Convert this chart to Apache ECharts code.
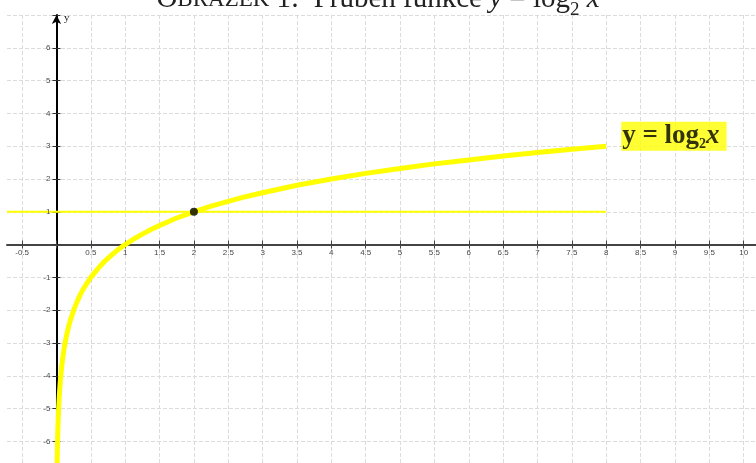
<!DOCTYPE html>
<html>
<head>
<meta charset="utf-8">
<script src="https://cdn.jsdelivr.net/npm/echarts@6/dist/echarts.min.js"></script>
<style>
	html, body { margin: 0; padding: 0; background: #fff; }
	#chart { width: 756px; height: 463px; }
</style>
</head>
<body>
<div id="chart"></div>
<script>
// curve y = log2 x
const curveX = [0.008, 0.01, 0.0125, 0.015, 0.02, 0.025, 0.03, 0.04, 0.05, 0.06, 0.07, 0.08, 0.1, 0.125, 0.15, 0.175, 0.2, 0.25, 0.3, 0.35, 0.4, 0.5, 0.6, 0.7, 0.8, 0.9, 1, 1.125, 1.25, 1.375, 1.5, 1.75, 2, 2.25, 2.5, 2.75, 3, 3.5, 4, 4.5, 5, 5.5, 6, 6.5, 7, 7.5, 8]
const curveY = [-6.97, -6.64, -6.32, -6.06, -5.64, -5.32, -5.06, -4.64, -4.32, -4.06, -3.84, -3.64, -3.32, -3, -2.74, -2.51, -2.32, -2, -1.74, -1.51, -1.32, -1, -0.74, -0.51, -0.32, -0.15, 0, 0.17, 0.32, 0.46, 0.58, 0.81, 1, 1.17, 1.32, 1.46, 1.58, 1.81, 2, 2.17, 2.32, 2.46, 2.58, 2.7, 2.81, 2.91, 3]

// horizontal line y = 1
const levelX = [-0.72, 8]
const levelY = [1, 1]

// highlighted point
const pointX = [2]
const pointY = [1]

// label at the end of the curve
const labelX = [8]
const labelY = [3]

// ticks and tick labels
const xTicks = [-0.5, 0, 0.5, 1, 1.5, 2, 2.5, 3, 3.5, 4, 4.5, 5, 5.5, 6, 6.5, 7, 7.5, 8, 8.5, 9, 9.5, 10]
const xLabels = [-0.5, 0.5, 1, 1.5, 2, 2.5, 3, 3.5, 4, 4.5, 5, 5.5, 6, 6.5, 7, 7.5, 8, 8.5, 9, 9.5, 10]
const yTicks = [-6, -5, -4, -3, -2, -1, 0, 1, 2, 3, 4, 5, 6, 7]
const yLabels = [-6, -5, -4, -3, -2, -1, 1, 2, 3, 4, 5, 6]

// visible ranges
const xRange = [-0.72, 10.18]
const yRange = [-6.66, 7]

const node = document.getElementById('chart')
const myChart = echarts.init(node)

const zip = (a, b) => a.map((v, i) => [v, b[i]])

const tickFont = {
	fontFamily: 'Liberation Sans, sans-serif',
	fontSize: 8,
	color: '#111'
}

const serif = 'Liberation Serif, serif'
const gridLine = { color: '#dcdcdc', type: [4, 2], width: 1 }

const option = {
	animation: false,
	title: {
		left: 'center',
		top: -20,
		text: '{a|O}{b|BRÁZEK}{a| 1:  Průběh funkce }{i|y}{a| = log}{s|2}{i| x}',
		textStyle: {
			rich: {
				a: { fontFamily: serif, fontSize: 29, fontWeight: 'normal', color: '#222' },
				b: { fontFamily: serif, fontSize: 23, fontWeight: 'normal', color: '#222' },
				i: { fontFamily: serif, fontSize: 29, fontWeight: 'normal', fontStyle: 'italic', color: '#222' },
				s: { fontFamily: serif, fontSize: 19, fontWeight: 'normal', color: '#222', verticalAlign: 'bottom', padding: [0, 0, -6, 0] }
			}
		}
	},
	graphic: [
		{
			type: 'text',
			left: 64,
			top: 13,
			style: {
				text: 'y',
				font: '11px Liberation Serif, serif',
				fill: '#222'
			}
		}
	],
	grid: {
		left: 7,
		right: 0,
		top: 15,
		bottom: 0,
		outerBoundsMode: 'none'
	},
	xAxis: [
		{
			type: 'value',
			min: xRange[0],
			max: xRange[1],
			position: 'bottom',
			axisLine: {
				onZero: true,
				onZeroAxisIndex: 0,
				lineStyle: { color: '#444', width: 2 }
			},
			axisTick: { show: true, length: 4, customValues: xTicks, lineStyle: { color: '#444' } },
			axisLabel: { show: false },
			splitLine: { show: true, lineStyle: gridLine }
		},
		{
			type: 'value',
			min: xRange[0],
			max: xRange[1],
			position: 'top',
			axisLine: { show: false, onZero: true, onZeroAxisIndex: 0 },
			axisTick: { show: true, length: 4, customValues: xTicks, lineStyle: { color: '#444' } },
			axisLabel: { show: false },
			splitLine: { show: false }
		}
	],
	yAxis: [
		{
			type: 'value',
			min: yRange[0],
			max: yRange[1],
			position: 'left',
			axisLine: {
				onZero: true,
				onZeroAxisIndex: 0,
				symbol: ['none', 'arrow'],
				symbolSize: [7, 9],
				lineStyle: { color: '#000', width: 2 }
			},
			axisTick: { show: true, length: 4, customValues: yTicks, lineStyle: { color: '#333' } },
			axisLabel: { show: false },
			splitLine: { show: true, lineStyle: gridLine }
		},
		{
			type: 'value',
			min: yRange[0],
			max: yRange[1],
			position: 'right',
			axisLine: { show: false, onZero: true, onZeroAxisIndex: 0 },
			axisTick: { show: true, length: 4, customValues: yTicks, lineStyle: { color: '#333' } },
			axisLabel: { show: false },
			splitLine: { show: false }
		}
	],
	series: [
		{
			name: 'y = 1',
			type: 'line',
			data: zip(levelX, levelY),
			symbol: 'none',
			lineStyle: { color: '#ffff00', width: 2 },
			z: 3
		},
		{
			name: 'log2',
			type: 'line',
			data: zip(curveX, curveY),
			symbol: 'none',
			smooth: false,
			lineStyle: { color: '#ffff00', width: 5, join: 'round' },
			z: 4
		},
		{
			name: 'point',
			type: 'scatter',
			data: zip(pointX, pointY),
			symbolSize: 8,
			itemStyle: { color: '#000' },
			z: 6
		},
		{
			// x tick labels next to the axis line at y = 0
			name: 'xTickLabels',
			type: 'scatter',
			data: xLabels.map(v => [v, 0]),
			symbolSize: 0,
			silent: true,
			z: 8,
			label: {
				show: true,
				position: 'bottom',
				distance: 4,
				...tickFont,
				formatter: p => String(p.value[0])
			}
		},
		{
			// y tick labels next to the axis line at x = 0
			name: 'yTickLabels',
			type: 'scatter',
			data: yLabels.map(v => [0, v]),
			symbolSize: 0,
			silent: true,
			z: 8,
			label: {
				show: true,
				position: 'left',
				distance: 6,
				...tickFont,
				formatter: p => String(p.value[1])
			}
		},
		{
			name: 'label',
			type: 'scatter',
			data: zip(labelX, labelY),
			symbolSize: 0,
			silent: true,
			z: 7,
			label: {
				show: true,
				position: 'right',
				distance: 15,
				offset: [0, -10],
				backgroundColor: '#ffff00',
				padding: [1, 7, 1, 1],
				formatter: () => '{a|y = log}{s|2}{i|x}',
				rich: {
					a: { fontFamily: serif, fontWeight: 'bold', fontSize: 27, color: '#000' },
					s: { fontFamily: serif, fontWeight: 'bold', fontSize: 14, color: '#000', verticalAlign: 'bottom', padding: [0, 0, -2, 0] },
					i: { fontFamily: serif, fontWeight: 'bold', fontStyle: 'italic', fontSize: 27, color: '#000' }
				}
			}
		}
	]
}

myChart.setOption(option)

window.addEventListener('resize', () => {
	myChart.resize()
})
</script>
</body>
</html>
